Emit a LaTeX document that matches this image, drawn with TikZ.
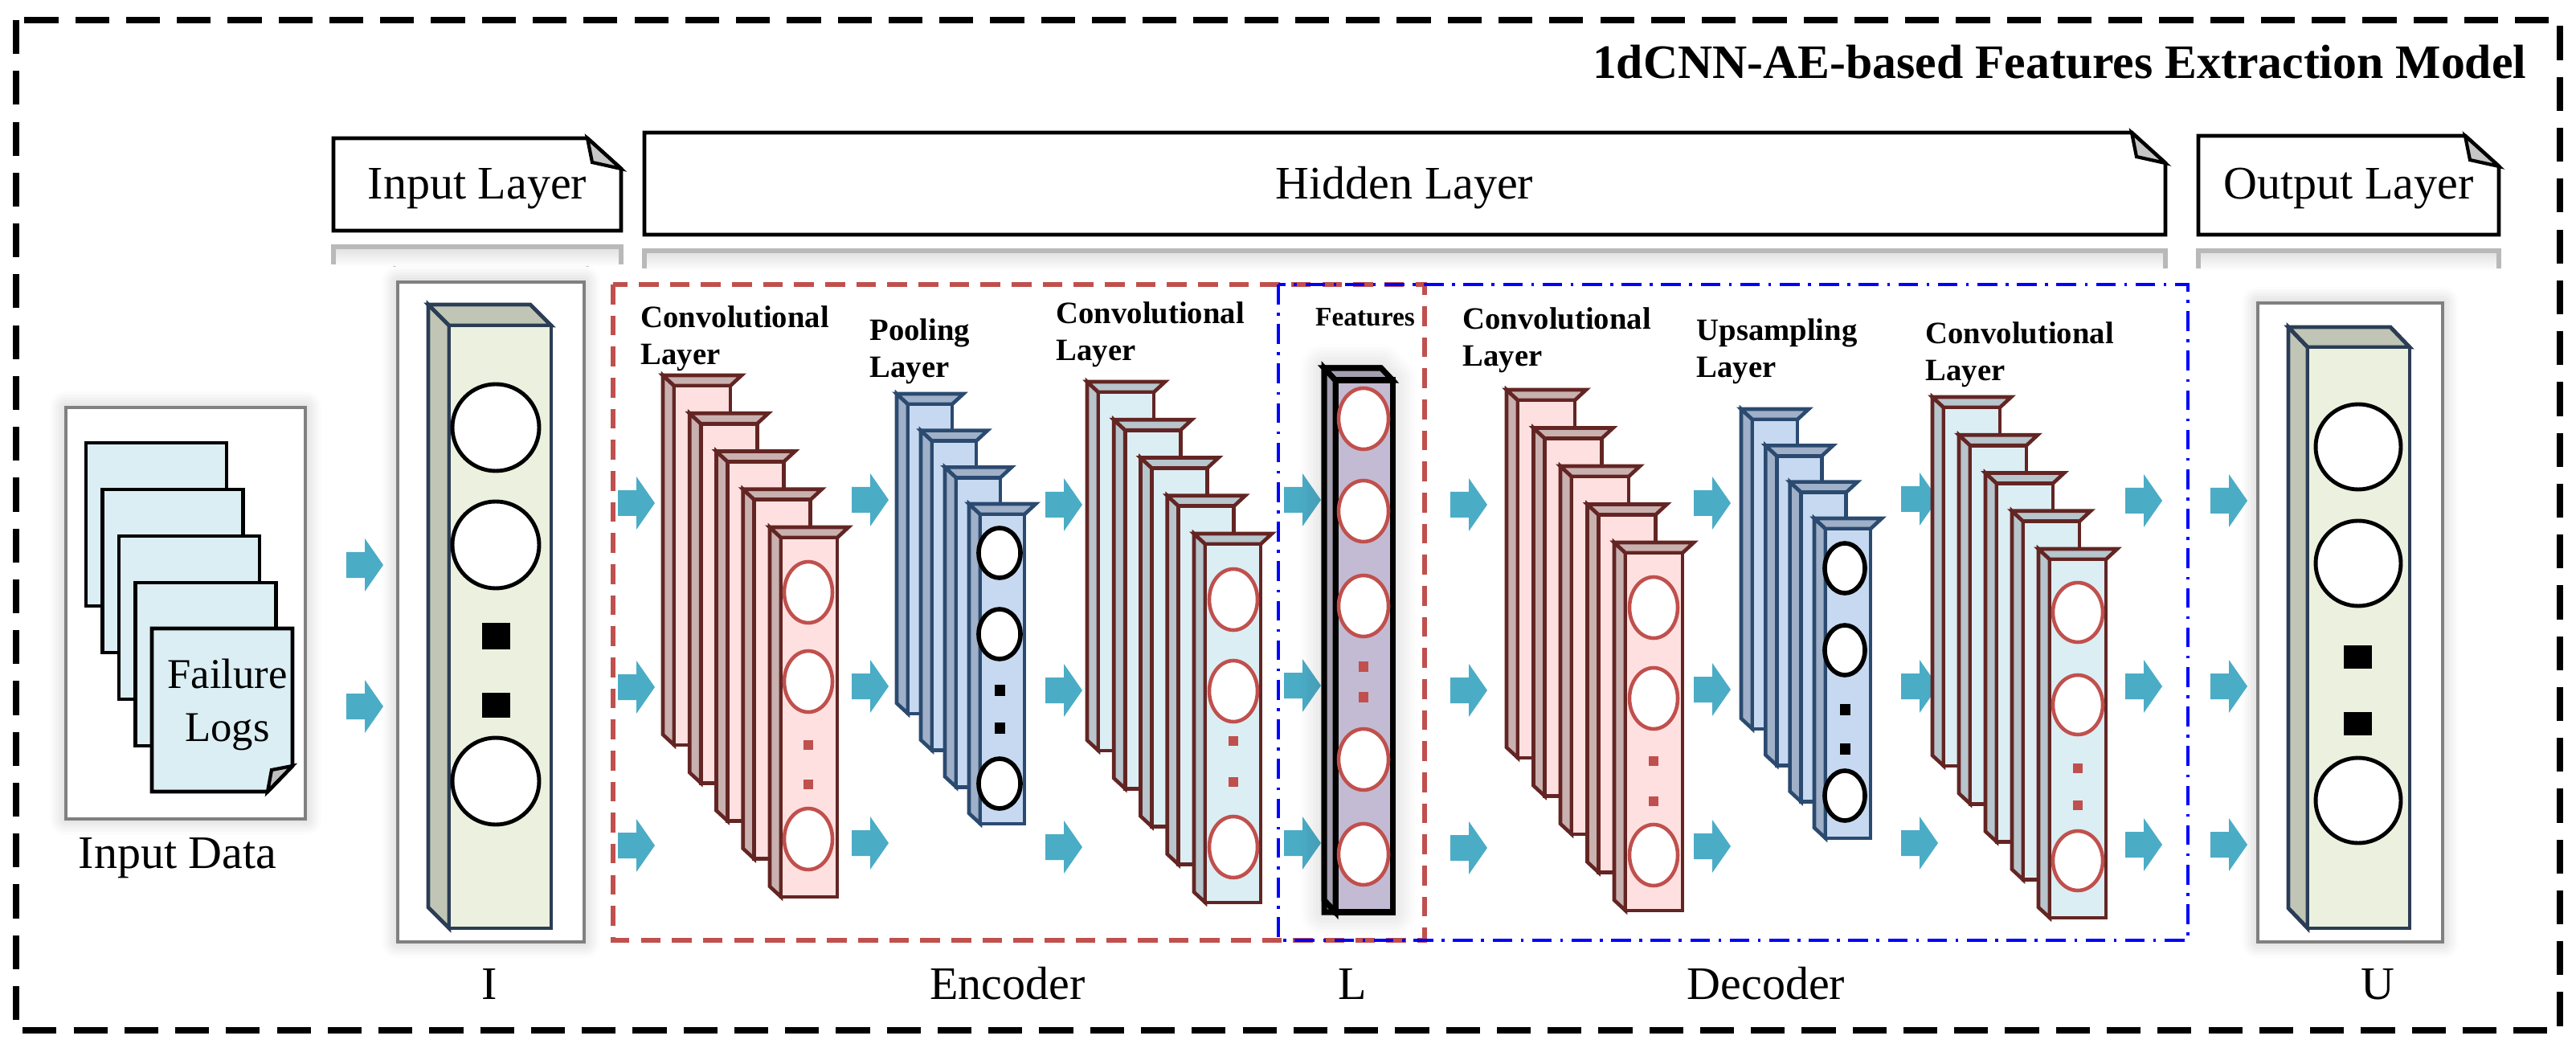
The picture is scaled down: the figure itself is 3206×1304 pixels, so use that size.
\documentclass[tikz,border=0pt]{standalone}
\usepackage{fontspec}
\setmainfont{Liberation Serif}
\usetikzlibrary{shadows.blur}
\definecolor{cy}{HTML}{4BACC6}
\definecolor{dred}{HTML}{632523}
\definecolor{cred}{HTML}{C0504D}
\definecolor{dblue}{HTML}{2B4A70}
\tikzset{
 pinkF/.style={fill=red!12!white, draw=dred, line width=1.3pt},
 pinkS/.style={fill={rgb,255:red,201;green,177;blue,176}, draw=dred, line width=1.3pt},
 blueF/.style={fill={rgb,255:red,198;green,217;blue,241}, draw=dblue, line width=1.3pt},
 blueS/.style={fill={rgb,255:red,159;green,176;blue,200}, draw=dblue, line width=1.3pt},
 lbF/.style={fill={rgb,255:red,219;green,238;blue,244}, draw=dred, line width=1.3pt},
 lbS/.style={fill={rgb,255:red,183;green,197;blue,204}, draw=dred, line width=1.3pt},
 grF/.style={fill={rgb,255:red,235;green,241;blue,222}, draw={rgb,255:red,43;green,61;blue,85}, line width=1.4pt},
 grS/.style={fill={rgb,255:red,192;green,197;blue,181}, draw={rgb,255:red,43;green,61;blue,85}, line width=1.4pt},
 ftF/.style={fill={rgb,255:red,195;green,187;blue,211}, draw=black, line width=2pt},
 ftS/.style={fill={rgb,255:red,163;green,159;blue,176}, draw=black, line width=2pt},
 rc/.style={draw=cred, fill=white, line width=1.3pt},
 bc/.style={draw=black, fill=white, line width=1.6pt},
 bigc/.style={draw=black, fill=white, line width=1.4pt},
 tag/.style={draw=black, fill=white, line width=1.4pt},
 lbl/.style={font=\fontsize{11}{13}\selectfont\bfseries, align=left, anchor=north west, inner sep=0pt},
 big/.style={font=\fontsize{16.5}{19}\selectfont, anchor=base, inner sep=0pt},
 gbox/.style={draw=gray, line width=1.2pt, fill=white, blur shadow={shadow blur steps=6, shadow xshift=0pt, shadow yshift=0pt, shadow opacity=25, shadow blur radius=2mm}},
}
\newcommand{\slab}[7]{%
 \path[#7S] (#1,#4) -- (#2,#4+#6) -- (#2,#5) -- (#1,#5-#6) -- cycle;
 \path[#7S] (#1,#4) -- (#3-#2+#1,#4) -- (#3,#4+#6) -- (#2,#4+#6) -- cycle;
 \path[#7F] (#2,#4+#6) rectangle (#3,#5);
}
\newcommand{\stk}[8]{%
 \foreach \i in {0,...,#1}{%
  \pgfmathsetmacro{\sx}{#2+(#3-#2)*\i/#1}
  \pgfmathsetmacro{\tp}{#4+(#5-#4)*\i/#1}
  \slab{\sx}{\sx+14}{\sx+14+#6}{\tp}{\tp+#7}{13}{#8}
 }%
}
\newcommand{\barw}[2]{%
 \fill[cy] (#1,#2-16) -- (#1+23,#2-16) -- (#1+23,#2-33) -- (#1+46,#2) -- (#1+23,#2+33) -- (#1+23,#2+16) -- (#1,#2+16) -- cycle;
}
\newcommand{\tagshape}[4]{%
 \path[tag] (#1,#2) -- (#3-42,#2) -- (#3,#2+38) -- (#3,#4) -- (#1,#4) -- cycle;
 \path[fill=gray!45, draw=black, line width=1.2pt] (#3-42,#2) -- (#3,#2+38) -- (#3-36,#2+30) -- cycle;
 \shade[top color=gray!25, bottom color=white] (#1,#4+20) rectangle (#3,#4+45);
 \draw[gray!55, line width=1.5pt] (#1,#4+42) -- (#1,#4+20) -- (#3,#4+20) -- (#3,#4+42);
}
\begin{document}
\begin{tikzpicture}[x=0.1mm, y=-0.1mm]
\useasboundingbox (0,0) rectangle (3206,1304);
\draw[line width=2.2pt, dash pattern=on 12pt off 6pt] (20,25) rectangle (3186,1282);
\node[font=\fontsize{17}{20}\selectfont\bfseries, anchor=base east, inner sep=0pt] (title) at (3145,98) {1dCNN-AE-based Features Extraction Model};
\tagshape{415}{172}{773}{287}
\node[big] (tin) at (594,248) {Input Layer};
\tagshape{802}{165}{2695}{292}
\node[big] (thid) at (1748,248) {Hidden Layer};
\tagshape{2736}{169}{3110}{292}
\node[big] (tout) at (2923,248) {Output Layer};
% input data
\path[gbox] (82,507) rectangle (380,1019);
\foreach \k in {0,...,3}{
 \path[fill={rgb,255:red,219;green,238;blue,244}, draw=black, line width=1.4pt] (107+20.5*\k,551+58*\k) rectangle (282+20.5*\k,754+58*\k);
}
\path[fill={rgb,255:red,219;green,238;blue,244}, draw=black, line width=1.4pt] (189,782) -- (364,782) -- (364,953) -- (333,985) -- (189,985) -- cycle;
\path[fill=gray!50, draw=black, line width=1.2pt] (364,953) -- (333,985) -- (338,958) -- cycle;
\node[font=\fontsize{15}{19}\selectfont, align=center, inner sep=0pt] (fl) at (283,877) {Failure\\Logs};
\node[big] (indata) at (221,1080) {Input Data};
% input layer
\path[gbox] (495,351) rectangle (727,1172);
\slab{533}{559}{686}{379}{1155}{26}{gr}
\foreach \yy in {532,678,972} \path[bigc] (617,\yy) ellipse (54 and 54);
\fill (600,775) rectangle (635,808);
\fill (600,862) rectangle (635,893);
\node[big] (I) at (609,1243) {I};
% output layer
\path[gbox] (2810,377) rectangle (3040,1172);
\slab{2848}{2872}{2999}{407}{1155}{25}{gr}
\foreach \yy in {556,701,996} \path[bigc] (2935,\yy) ellipse (53 and 53);
\fill (2917,803) rectangle (2952,832);
\fill (2917,886) rectangle (2952,915);
\node[big] (U) at (2959,1243) {U};
% encoder / decoder boxes
\draw[cred, line width=1.5pt, dash pattern=on 7pt off 4pt] (763,354) rectangle (1773,1170);
\draw[blue, line width=1.3pt, dash pattern=on 7pt off 3pt on 1pt off 3pt] (1591,354) rectangle (2723,1170);
\node[big] (enc) at (1254,1243) {Encoder};
\node[big] (L) at (1683,1243) {L};
\node[big] (dec) at (2198,1243) {Decoder};
% arrows
\barw{431}{703}\barw{431}{879}
\foreach \ax/\ya/\yb/\yc in {769/626/855/1052, 1060/622/854/1049, 1301/628/859/1054, 1598/622/853/1049, 1805/628/859/1055, 2108/626/858/1053, 2366/621/854/1049, 2645/623/854/1051, 2751/623/854/1051}{
 \barw{\ax}{\ya}\barw{\ax}{\yb}\barw{\ax}{\yc}
}
% encoder conv 1
\stk{4}{825}{958}{467}{656}{70}{460}{pink}
\foreach \yy in {737,848,1044} \path[rc] (1006,\yy) ellipse (30 and 38);
\fill[cred] (1000,921) rectangle (1012,933); \fill[cred] (1000,970) rectangle (1012,982);
\node[lbl] (l1) at (797,380) {Convolutional\\Layer};
% pooling
\stk{3}{1116}{1206}{490}{627}{55}{398}{blue}
\foreach \yy in {688,789,975} \path[bc] (1244,\yy) ellipse (26 and 31);
\fill (1238,852) rectangle (1251,866); \fill (1238,899) rectangle (1251,913);
\node[lbl] (l2) at (1082,396) {Pooling\\Layer};
% encoder conv 2
\stk{4}{1353}{1486}{475}{664}{69}{459}{lb}
\foreach \yy in {746,860,1054} \path[rc] (1535,\yy) ellipse (30 and 38);
\fill[cred] (1529,916) rectangle (1541,928); \fill[cred] (1529,967) rectangle (1541,979);
\node[lbl] (l3) at (1314,375) {Convolutional\\Layer};
% features
\path[ftS, blur shadow={shadow blur steps=8, shadow xshift=0pt, shadow yshift=0pt, shadow opacity=22, shadow blur radius=3mm}] (1648,458) -- (1718,458) -- (1733,473) -- (1733,1135) -- (1648,1135) -- cycle;
\slab{1648}{1662}{1733}{458}{1135}{15}{ft}
\foreach \yy in {521,636,754,945,1063} \path[rc] (1697,\yy) ellipse (31 and 38);
\fill[cred] (1691,823) rectangle (1703,836); \fill[cred] (1691,861) rectangle (1703,874);
\node[font=\fontsize{9.5}{11}\selectfont\bfseries, inner sep=0pt, anchor=base] (feat) at (1699,406) {Features};
% decoder conv 1
\stk{4}{1875}{2009}{485}{675}{71}{458}{pink}
\foreach \yy in {756,869,1064} \path[rc] (2058,\yy) ellipse (30 and 38);
\fill[cred] (2052,941) rectangle (2064,953); \fill[cred] (2052,991) rectangle (2064,1003);
\node[lbl] (l4) at (1820,382) {Convolutional\\Layer};
% upsampling
\stk{3}{2167}{2258}{509}{645}{56}{398}{blue}
\foreach \yy in {707,809,990} \path[bc] (2296,\yy) ellipse (25 and 31);
\fill (2290,876) rectangle (2303,890); \fill (2290,925) rectangle (2303,939);
\node[lbl] (l5) at (2111,396) {Upsampling\\Layer};
% decoder conv 2
\stk{4}{2405}{2537}{494}{683}{70}{459}{lb}
\foreach \yy in {762,877,1071} \path[rc] (2586,\yy) ellipse (31 and 37);
\fill[cred] (2580,950) rectangle (2592,962); \fill[cred] (2580,996) rectangle (2592,1008);
\node[lbl] (l6) at (2396,400) {Convolutional\\Layer};
\end{tikzpicture}
\end{document}
